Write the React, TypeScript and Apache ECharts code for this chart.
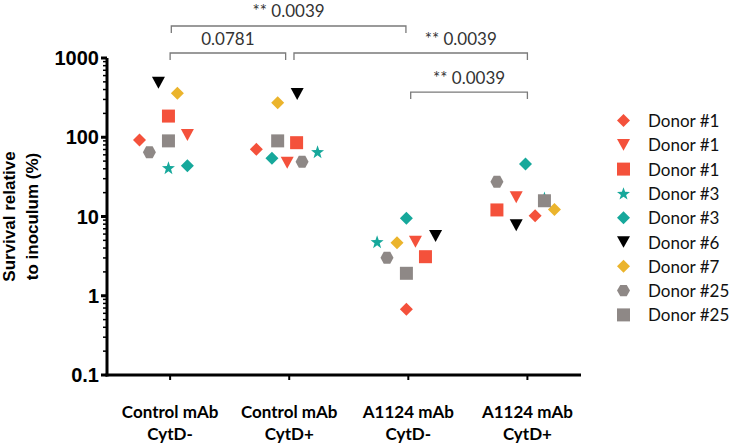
import React, { useEffect, useRef } from "react";
import * as echarts from "echarts";

// ---- data ----
const categories = ["Control mAb\nCytD-", "Control mAb\nCytD+", "A1124 mAb\nCytD-", "A1124 mAb\nCytD+"];
const yTickLabels = ["0.1", "1", "10", "100", "1000"];
const majorTickValues = [0.1, 1, 10, 100, 1000];
const minorTickValues = [
  0.2, 0.3, 0.4, 0.5, 0.6, 0.7, 0.8, 0.9,
  2, 3, 4, 5, 6, 7, 8, 9,
  20, 30, 40, 50, 60, 70, 80, 90,
  200, 300, 400, 500, 600, 700, 800, 900,
];

const donor1Diamond = [92, 70.5, 0.675, 10.2];
const donor1Triangle = [107, 47.7, 4.81, 17.5];
const donor1Square = [185, 85.4, 3.11, 12.1];
const donor3Star = [41.3, 65.7, 4.81, 17.1];
const donor3Diamond = [43.8, 54.3, 9.5, 45.9];
const donor6Triangle = [488, 351, 5.67, 7.74];
const donor7Diamond = [359, 273, 4.67, 12.3];
const donor25Hexagon = [64.6, 49.1, 3.02, 27.5];
const donor25Square = [90, 90, 1.92, 15.8];

const legendLabels = ["Donor #1", "Donor #1", "Donor #1", "Donor #3", "Donor #3", "Donor #6", "Donor #7", "Donor #25", "Donor #25"];

const bracketTexts = ["** 0.0039", "0.0781", "** 0.0039", "** 0.0039"];

// ---- layout (horizontal jitter within each category, in category units) ----
const jitter = [
  [-0.257, -0.276, -0.016, 0.065],
  [0.145, -0.017, 0.06, -0.094],
  [-0.014, 0.062, 0.144, -0.256],
  [-0.014, 0.238, -0.262, 0.143],
  [0.145, -0.145, -0.016, -0.016],
  [-0.098, 0.067, 0.229, -0.094],
  [0.061, -0.097, -0.095, 0.227],
  [-0.174, 0.108, -0.179, -0.256],
  [-0.014, -0.097, -0.016, 0.143],
];
const bracketStarts = [0.01, 0, 1.04, 2.02];
const bracketEnds = [1.98, 0.97, 3.0, 3.0];
const bracketLabelX = [0.995, 0.485, 2.44, 2.51];
const bracketLevels = [2535, 1156, 1156, 372];

// x axis: category i is placed at i + X_OFFSET so the axis starts at 0
const X_OFFSET = 0.53;
const X_MAX = 3.98;
const Y_MIN = 0.1;
const Y_MAX = 1000;

const RED = "#f4513b";
const TEAL = "#16a89b";
const BLACK = "#000000";
const YELLOW = "#ebb42c";
const GRAY = "#8e8886";

const STAR = "path://M50,0L61.76,33.82L97.55,34.55L69.02,56.18L79.39,90.45L50,70L20.61,90.45L30.98,56.18L2.45,34.55L38.24,33.82Z";
const HEX = "path://M0,43.3L25,0L75,0L100,43.3L75,86.6L25,86.6Z";
const TRI_DOWN = "path://M0,0L100,0L50,90Z";

const seriesSpecs = [
  { id: "s0", values: donor1Diamond, symbol: "diamond", size: 13, color: RED },
  { id: "s1", values: donor1Triangle, symbol: TRI_DOWN, size: [13, 12], color: RED },
  { id: "s2", values: donor1Square, symbol: "rect", size: 13, color: RED },
  { id: "s3", values: donor3Star, symbol: STAR, size: 13, color: TEAL },
  { id: "s4", values: donor3Diamond, symbol: "diamond", size: 13, color: TEAL },
  { id: "s5", values: donor6Triangle, symbol: TRI_DOWN, size: [13, 12], color: BLACK },
  { id: "s6", values: donor7Diamond, symbol: "diamond", size: 13, color: YELLOW },
  { id: "s7", values: donor25Hexagon, symbol: HEX, size: [13, 12], color: GRAY },
  { id: "s8", values: donor25Square, symbol: "rect", size: 13, color: GRAY },
];

const SANS = "Lato";
const ARIAL = "Liberation Sans";

const catPos = (i: number) => i + X_OFFSET;

function seg(x1: number, y1: number, x2: number, y2: number, w: number): any {
  return {
    type: "polyline",
    shape: { points: [[x1, y1], [x2, y2]] },
    style: { stroke: "#000000", lineWidth: w, fill: null },
  };
}

function buildOption(): any {
  const scatter = seriesSpecs.map((s, k) => ({
    type: "scatter",
    name: s.id,
    symbol: s.symbol,
    symbolSize: s.size,
    itemStyle: { color: s.color, opacity: 1 },
    data: s.values.map((v, i) => [catPos(i) + jitter[k][i], v]),
    z: 3,
  }));

  // axis frame: axis lines + major/minor ticks + category ticks, placed via the axes' scales
  const frame = {
    type: "custom",
    silent: true,
    clip: false,
    z: 6,
    data: [[1, 1]],
    renderItem: (params: any, api: any) => {
      const o = api.coord([0, Y_MIN]);
      const top = api.coord([0, Y_MAX]);
      const right = api.coord([X_MAX, Y_MIN]);
      const children: any[] = [
        seg(o[0], o[1] + 1.5, top[0], top[1], 3),
        seg(o[0] - 1.5, o[1], right[0], right[1], 3),
      ];
      majorTickValues.forEach((v) => {
        const p = api.coord([0, v]);
        children.push(seg(p[0] - 6, p[1], p[0], p[1], 3));
      });
      minorTickValues.forEach((v) => {
        const p = api.coord([0, v]);
        children.push(seg(p[0] - 4, p[1], p[0], p[1], 1.5));
      });
      categories.forEach((_, i) => {
        const p = api.coord([catPos(i), Y_MIN]);
        children.push(seg(p[0], p[1], p[0], p[1] + 5, 2));
      });
      return { type: "group", children };
    },
  };

  const brackets = {
    type: "custom",
    silent: true,
    clip: false,
    z: 5,
    data: bracketTexts.map((_, i) => [catPos(bracketStarts[i]), bracketLevels[i]]),
    renderItem: (params: any, api: any) => {
      const i = params.dataIndex;
      const a = api.coord([catPos(bracketStarts[i]), bracketLevels[i]]);
      const b = api.coord([catPos(bracketEnds[i]), bracketLevels[i]]);
      const lx = api.coord([catPos(bracketLabelX[i]), bracketLevels[i]])[0];
      return {
        type: "group",
        children: [
          {
            type: "polyline",
            shape: { points: [[a[0], a[1] + 7], [a[0], a[1]], [b[0], b[1]], [b[0], b[1] + 7]] },
            style: { stroke: "#7a7a7a", lineWidth: 1.3, fill: null },
          },
          {
            type: "text",
            x: lx,
            y: a[1] - 15,
            style: {
              text: bracketTexts[i],
              textAlign: "center",
              textVerticalAlign: "middle",
              fontFamily: SANS,
              fontSize: 17,
              fill: "#333333",
            },
          },
        ],
      };
    },
  };

  const tickValues = categories.map((_, i) => catPos(i));

  return {
    animation: false,
    backgroundColor: "#ffffff",
    grid: { left: 107, top: 58, right: 152, bottom: 71, containLabel: false, outerBoundsMode: "none" },
    legend: {
      orient: "vertical",
      left: 617,
      top: 112,
      padding: 0,
      itemWidth: 13,
      itemHeight: 13,
      itemGap: 7.3,
      selectedMode: false,
      data: seriesSpecs.map((s) => s.id),
      formatter: (name: string) => legendLabels[seriesSpecs.findIndex((s) => s.id === name)],
      textStyle: { fontFamily: SANS, fontSize: 17, lineHeight: 17, color: "#111", padding: [0, 0, 0, 13] },
    },
    xAxis: {
      type: "value",
      min: 0,
      max: X_MAX,
      splitLine: { show: false },
      axisLine: { show: false },
      axisTick: { show: false },
      axisLabel: {
        customValues: tickValues,
        formatter: (v: number) => categories[Math.round(v - X_OFFSET)],
        fontFamily: SANS,
        fontWeight: "bold",
        fontSize: 17,
        lineHeight: 22,
        color: "#000",
        margin: 25,
      },
    },
    yAxis: {
      type: "log",
      logBase: 10,
      min: Y_MIN,
      max: Y_MAX,
      splitLine: { show: false },
      axisLine: { show: false },
      axisTick: { show: false },
      axisLabel: {
        formatter: (v: number) => yTickLabels[Math.round(Math.log10(v)) + 1],
        fontFamily: ARIAL,
        fontWeight: "bold",
        fontSize: 20,
        color: "#000",
        margin: 8,
      },
      name: "Survival relative\nto inoculum (%)",
      nameLocation: "middle",
      nameGap: 60,
      nameTextStyle: { fontFamily: ARIAL, fontWeight: "bold", fontSize: 17, lineHeight: 23, color: "#000" },
    },
    series: [...scatter, frame, brackets],
  };
}

export default function App() {
  const ref = useRef<HTMLDivElement>(null);
  useEffect(() => {
    if (!ref.current) return;
    const chart = echarts.init(ref.current, null, { renderer: "svg" });
    chart.setOption(buildOption());
    return () => chart.dispose();
  }, []);
  return <div ref={ref} style={{ position: "fixed", left: 0, top: 0, width: 733, height: 446 }} />;
}
